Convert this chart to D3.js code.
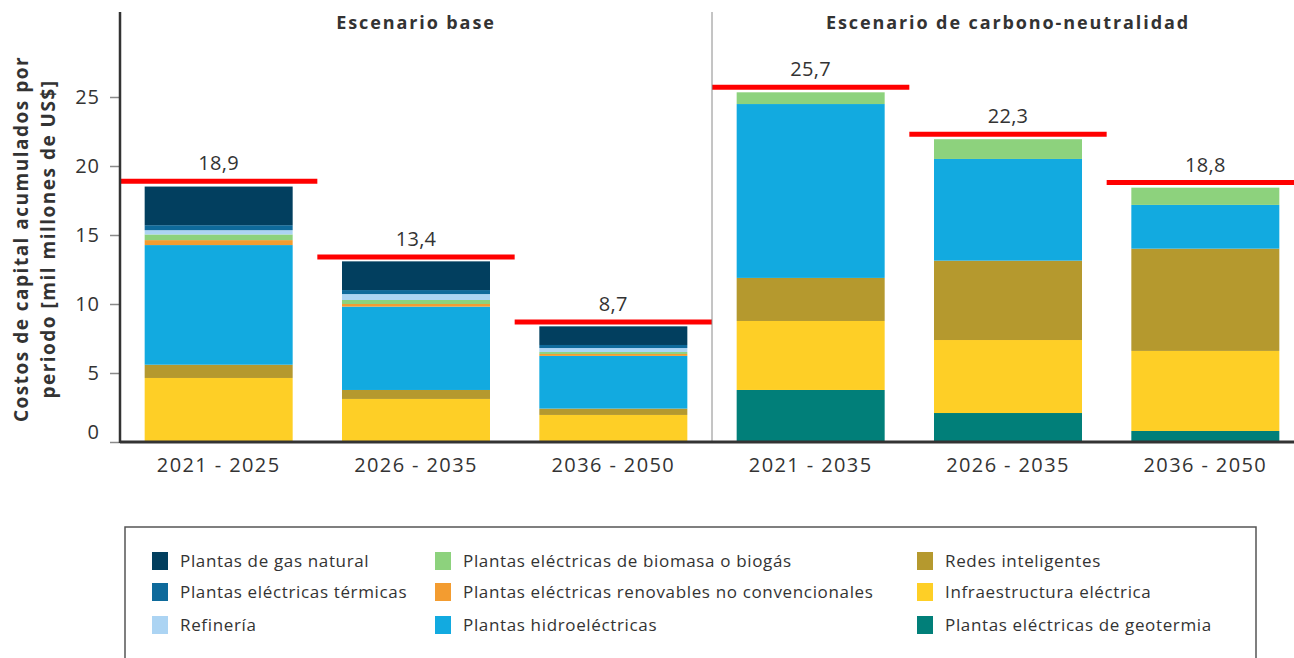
<!DOCTYPE html>
<html>
<head>
<meta charset="utf-8">
<script src="https://cdn.jsdelivr.net/npm/d3@7"></script>
<style>
  body { margin: 0; background: #fff; }
  svg { display: block; font-family: "Open Sans", sans-serif; }
</style>
</head>
<body>
<svg></svg>
<script>
var width = 1294;
var height = 658;

// periods (two scenarios, three each)
var periods = ["2021 - 2025", "2026 - 2035", "2036 - 2050", "2021 - 2035", "2026 - 2035", "2036 - 2050"];
var scenarios = ["Escenario base", "Escenario de carbono-neutralidad"];
var totals = [18.9, 13.4, 8.7, 25.7, 22.3, 18.8];

// series values, bottom of stack first
var geotermia  = [0, 0, 0, 3.77, 2.1, 0.8];
var infra      = [4.64, 3.12, 1.96, 5.0, 5.29, 5.8];
var redes      = [0.96, 0.65, 0.46, 3.12, 5.75, 7.41];
var hidro      = [8.67, 6.04, 3.82, 12.6, 7.37, 3.17];
var renovables = [0.36, 0.19, 0.14, 0, 0, 0];
var biomasa    = [0.41, 0.29, 0.14, 0.85, 1.43, 1.25];
var refineria  = [0.31, 0.43, 0.29, 0, 0, 0];
var termicas   = [0.36, 0.29, 0.22, 0, 0, 0];
var gas        = [2.8, 2.08, 1.35, 0, 0, 0];

var yTicks = [0, 5, 10, 15, 20, 25];

var series = [
  {key: "geotermia",  name: "Plantas eléctricas de geotermia", values: geotermia, color: "#017f79"},
  {key: "infra",      name: "Infraestructura eléctrica", values: infra, color: "#fecf26"},
  {key: "redes",      name: "Redes inteligentes", values: redes, color: "#b5992e"},
  {key: "hidro",      name: "Plantas hidroeléctricas", values: hidro, color: "#12aae0"},
  {key: "renovables", name: "Plantas eléctricas renovables no convencionales", values: renovables, color: "#f39c30"},
  {key: "biomasa",    name: "Plantas eléctricas de biomasa o biogás", values: biomasa, color: "#8dd27d"},
  {key: "refineria",  name: "Refinería", values: refineria, color: "#acd4f3"},
  {key: "termicas",   name: "Plantas eléctricas térmicas", values: termicas, color: "#0e6a9b"},
  {key: "gas",        name: "Plantas de gas natural", values: gas, color: "#023f5f"}
];

// legend order, column by column
var legendOrder = ["gas", "termicas", "refineria", "biomasa", "renovables", "hidro", "redes", "infra", "geotermia"];

var table = periods.map(function(p, i) {
  var row = {i: i};
  series.forEach(function(s) { row[s.key] = s.values[i]; });
  return row;
});

var svg = d3.select("svg")
  .attr("width", width)
  .attr("height", height);

var left = 120, right = 1304, base = 442;

var xScale = d3.scaleBand()
  .domain(d3.range(periods.length))
  .range([left, right])
  .paddingInner(0.25)
  .paddingOuter(0.125);

var yScale = d3.scaleLinear()
  .domain([0, 25])
  .range([base, 97]);

var stack = d3.stack().keys(series.map(function(s) { return s.key; }));
var stacked = stack(table);
var colorOf = {};
series.forEach(function(s) { colorOf[s.key] = s.color; });

// bars
svg.append("g")
  .selectAll("g")
  .data(stacked)
  .enter()
  .append("g")
    .attr("fill", function(d) { return colorOf[d.key]; })
  .selectAll("rect")
  .data(function(d) { return d; })
  .enter()
  .append("rect")
    .attr("x", function(d) { return xScale(d.data.i); })
    .attr("y", function(d) { return yScale(d[1]); })
    .attr("width", xScale.bandwidth())
    .attr("height", function(d) { return yScale(d[0]) - yScale(d[1]); });

// red total lines
var step = xScale.step();
svg.append("g")
  .selectAll("line")
  .data(totals)
  .enter()
  .append("line")
    .attr("x1", function(d, i) { return xScale(i) + xScale.bandwidth() / 2 - step / 2; })
    .attr("x2", function(d, i) { return xScale(i) + xScale.bandwidth() / 2 + step / 2; })
    .attr("y1", function(d) { return yScale(d); })
    .attr("y2", function(d) { return yScale(d); })
    .attr("stroke", "#ff0000")
    .attr("stroke-width", 5);

svg.append("g")
  .selectAll("text")
  .data(totals)
  .enter()
  .append("text")
    .attr("x", function(d, i) { return xScale(i) + xScale.bandwidth() / 2; })
    .attr("y", function(d) { return yScale(d) - 11; })
    .attr("text-anchor", "middle")
    .attr("font-size", "20px")
    .attr("letter-spacing", "0.3px")
    .attr("fill", "#333")
    .text(function(d) { return String(d).replace(".", ","); });

// scenario divider
var divX = xScale(3) - xScale.step() * xScale.paddingInner() / 2;
svg.append("line")
  .attr("x1", divX).attr("x2", divX)
  .attr("y1", 12).attr("y2", base)
  .attr("stroke", "#8a8a8a")
  .attr("stroke-width", 1);

// scenario titles
svg.selectAll(".scen")
  .data(scenarios)
  .enter()
  .append("text")
    .attr("class", "scen")
    .attr("x", function(d, i) { return xScale(i * 3 + 1) + xScale.bandwidth() / 2; })
    .attr("y", 29)
    .attr("text-anchor", "middle")
    .attr("font-size", "18px")
    .attr("font-weight", "bold")
    .attr("letter-spacing", "1.9px")
    .attr("fill", "#333")
    .text(function(d) { return d; });

// Y axis
var yAxis = d3.axisLeft(yScale)
  .tickValues(yTicks)
  .tickSize(10)
  .tickPadding(10);

var yg = svg.append("g")
  .attr("transform", "translate(" + left + ",0)")
  .call(yAxis);
yg.select(".domain").remove();
yg.selectAll(".tick line").attr("stroke", "#8a8a8a").attr("stroke-width", 1.5);
yg.selectAll(".tick text")
  .attr("font-size", "20px")
  .attr("letter-spacing", "1px")
  .attr("font-family", "Open Sans, sans-serif")
  .attr("fill", "#333")
  .attr("dy", function(d) { return d === 0 ? "-0.2em" : "0.32em"; });

svg.append("line")
  .attr("x1", left).attr("x2", left)
  .attr("y1", 12).attr("y2", base + 1)
  .attr("stroke", "#333")
  .attr("stroke-width", 2.5);

// X axis
var xAxis = d3.axisBottom(xScale)
  .tickSize(0)
  .tickPadding(16)
  .tickFormat(function(i) { return periods[i]; });

var xg = svg.append("g")
  .attr("transform", "translate(0," + base + ")")
  .call(xAxis);
xg.select(".domain").remove();
xg.selectAll(".tick text")
  .attr("font-size", "20px")
  .attr("letter-spacing", "1.4px")
  .attr("font-family", "Open Sans, sans-serif")
  .attr("fill", "#333");

svg.append("line")
  .attr("x1", left).attr("x2", width)
  .attr("y1", base).attr("y2", base)
  .attr("stroke", "#333")
  .attr("stroke-width", 3);

// Y axis title
var yt = svg.append("text")
  .attr("transform", "translate(28,239) rotate(-90)")
  .attr("text-anchor", "middle")
  .attr("font-size", "19px")
  .attr("font-weight", "bold")
  .attr("letter-spacing", "1.5px")
  .attr("fill", "#333");
yt.append("tspan").attr("x", 0).attr("y", 0).text("Costos de capital acumulados por");
yt.append("tspan").attr("x", 0).attr("y", 27).text("periodo [mil millones de US$]");

// legend
svg.append("rect")
  .attr("x", 125).attr("y", 527)
  .attr("width", 1131).attr("height", 160)
  .attr("fill", "none")
  .attr("stroke", "#555")
  .attr("stroke-width", 1.5);

var colX = [152, 435, 917];
var rowY = [561, 592, 625];
var byKey = {};
series.forEach(function(s) { byKey[s.key] = s; });

var legend = svg.append("g")
  .selectAll("g")
  .data(legendOrder)
  .enter()
  .append("g")
    .attr("transform", function(d, i) {
      return "translate(" + colX[Math.floor(i / 3)] + "," + rowY[i % 3] + ")";
    });

legend.append("rect")
  .attr("x", 0).attr("y", -9)
  .attr("width", 16).attr("height", 18)
  .attr("fill", function(d) { return byKey[d].color; });

legend.append("text")
  .attr("x", 28)
  .attr("y", 0)
  .attr("dy", "0.35em")
  .attr("font-size", "17px")
  .attr("letter-spacing", "0.65px")
  .attr("fill", "#333")
  .text(function(d) { return byKey[d].name; });
</script>
</body>
</html>
